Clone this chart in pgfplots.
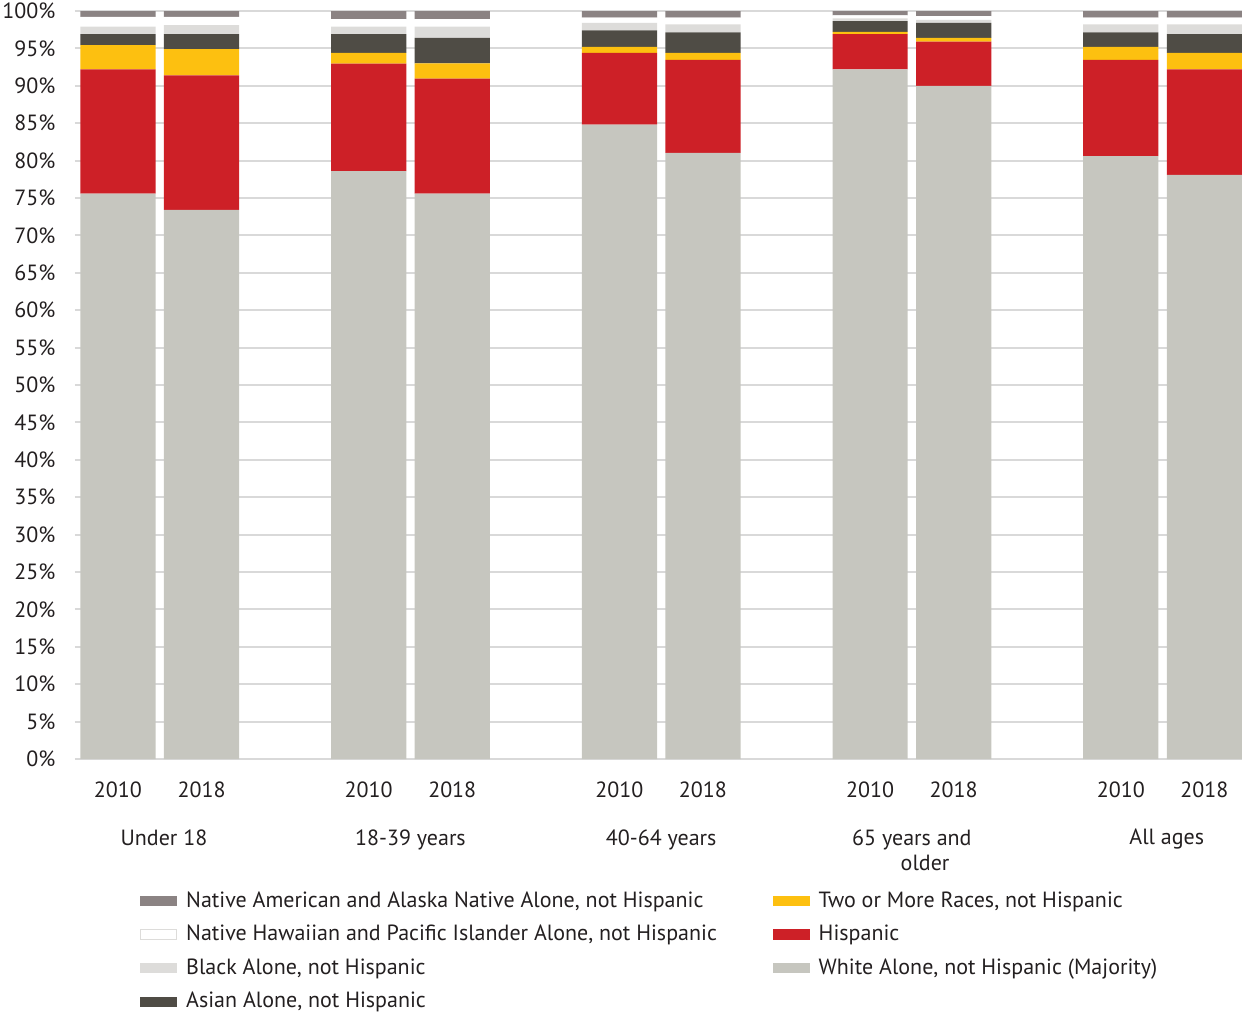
\documentclass[border=0pt]{standalone}
\usepackage{pgfplots}
\pgfplotsset{compat=1.18}
\usepackage{pgfplotstable}
\usepackage{fontspec}
\setmainfont{PT Sans}

\definecolor{cNA}{RGB}{139,131,131}
\definecolor{cNHPI}{RGB}{255,255,255}
\definecolor{cBlack}{RGB}{221,220,218}
\definecolor{cAsian}{RGB}{79,76,69}
\definecolor{cTwo}{RGB}{253,192,16}
\definecolor{cHisp}{RGB}{205,32,39}
\definecolor{cWhite}{RGB}{198,198,191}
\definecolor{cGrid}{RGB}{217,217,217}
\definecolor{cText}{RGB}{35,31,32}

% share of population (%) by age group, 2010 and 2018
\pgfplotstableread{
x  White Hisp  Two  Asian Black NHPI NA
0  75.6  16.6  3.25 1.45  1.0   1.3  0.8
1  73.4  18.0  3.5  2.0   1.2   1.1  0.8
3  78.6  14.35 1.45 2.5   1.0   1.0  1.1
4  75.6  15.35 2.05 3.4   1.5   1.0  1.1
6  84.8  9.6   0.8  2.2   1.0   0.7  0.9
7  81.05 12.4  0.95 2.75  1.05  0.9  0.9
9  92.2  4.7   0.3  1.46  0.35  0.4  0.59
10 90.0  5.9   0.5  2.0   0.4   0.5  0.7
12 80.6  12.85 1.75 1.95  1.05  0.9  0.9
13 78.1  14.1  2.2  2.5   1.3   0.9  0.9
}\popdata

\newcommand{\legbox}[2]{\addlegendimage{legend image code/.code={\fill[#1,draw=#2,line width=0.4pt] (0pt,-2.3pt) rectangle (18pt,2.3pt);}}}
\newcommand{\chartfont}{\fontsize{11}{12.5}\selectfont}
\tikzset{grouplabel/.style={anchor=north, align=center, text=cText,
  font=\chartfont, yshift=-31.3pt}}

\begin{document}
\chartfont
\color{cText}
\begin{tikzpicture}
\useasboundingbox (-37.5pt,-127.5pt) rectangle (583.5pt,379.5pt);
\begin{axis}[
  at={(0pt,0pt)}, anchor=south west,
  scale only axis,
  width=583.5pt, height=374pt,
  ybar stacked, bar width=0.9,
  xmin=-0.514, xmax=13.45,
  ymin=0, ymax=100,
  xtick={0,1,3,4,6,7,9,10,12,13},
  xticklabels={2010,2018,2010,2018,2010,2018,2010,2018,2010,2018},
  ytick={0,5,...,100},
  yticklabel={\pgfmathprintnumber{\tick}\%},
  /pgf/number format/assume math mode=true,
  major tick length=0pt,
  axis line style={draw=none},
  ymajorgrids,
  grid style={cGrid, line width=1pt},
  xticklabel style={yshift=-7.5pt, font=\chartfont, text=cText},
  yticklabel style={xshift=-6pt, font=\chartfont, text=cText},
  clip=false,
  legend cell align=left,
  legend columns=4,
  transpose legend,
  legend style={draw=none, fill=none, at={(0.0557,0)}, anchor=north west,
    xshift=-3pt, yshift=-62pt, font=\chartfont, text=cText,
    /tikz/every odd column/.append style={column sep=2.5pt},
    /tikz/every even column/.append style={column sep=26pt},
    row sep=3.3pt},
]
\legbox{cNA}{cNA}
\addlegendentry{Native American and Alaska Native Alone, not Hispanic}
\legbox{cNHPI}{cBlack}
\addlegendentry{Native Hawaiian and Pacific Islander Alone, not Hispanic}
\legbox{cBlack}{cBlack}
\addlegendentry{Black Alone, not Hispanic}
\legbox{cAsian}{cAsian}
\addlegendentry{Asian Alone, not Hispanic}
\legbox{cTwo}{cTwo}
\addlegendentry{Two or More Races, not Hispanic}
\legbox{cHisp}{cHisp}
\addlegendentry{Hispanic}
\legbox{cWhite}{cWhite}
\addlegendentry{White Alone, not Hispanic (Majority)}

\addplot[forget plot, fill=cWhite, draw=none] table[x=x, y=White] {\popdata};
\addplot[forget plot, fill=cHisp, draw=none] table[x=x, y=Hisp] {\popdata};
\addplot[forget plot, fill=cTwo, draw=none] table[x=x, y=Two] {\popdata};
\addplot[forget plot, fill=cAsian, draw=none] table[x=x, y=Asian] {\popdata};
\addplot[forget plot, fill=cBlack, draw=none] table[x=x, y=Black] {\popdata};
\addplot[forget plot, fill=cNHPI, draw=none] table[x=x, y=NHPI] {\popdata};
\addplot[forget plot, fill=cNA, draw=none] table[x=x, y=NA] {\popdata};

\node[grouplabel] at (axis cs:0.55,0) {Under 18};
\node[grouplabel] at (axis cs:3.5,0) {18-39 years};
\node[grouplabel] at (axis cs:6.5,0) {40-64 years};
\node[grouplabel] at (axis cs:9.5,0) {65 years and\\\hspace*{1.2em}older};
\node[grouplabel] at (axis cs:12.55,0) {All ages};
\end{axis}
\end{tikzpicture}
\end{document}
